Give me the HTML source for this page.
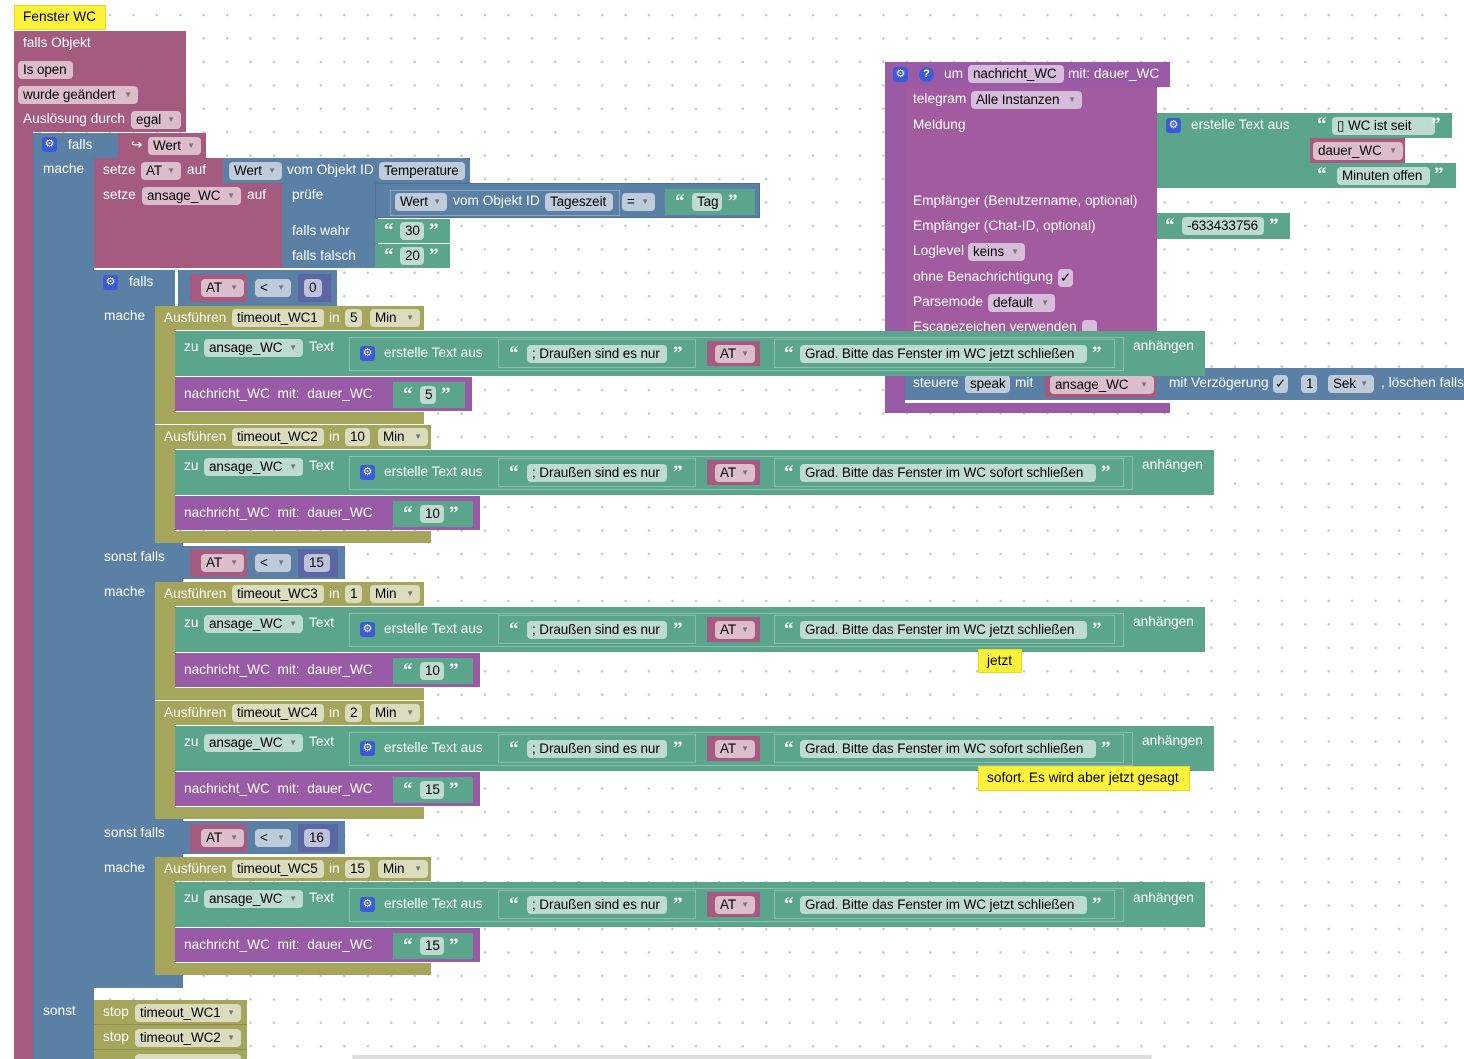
<!DOCTYPE html>
<html><head><meta charset="utf-8">
<style>
html,body{margin:0;padding:0;overflow:hidden}
html{width:1464px;height:1059px}
body{width:1464px;height:1059px;overflow:hidden;position:relative;background:#fff radial-gradient(circle,#c8c8c8 1px,transparent 1.6px) 4.5px 3.3px/23.45px 23.45px;font-family:"Liberation Sans",Arial,sans-serif}
.a{position:absolute}
.w{position:absolute;color:#fff;font-size:13.7px;line-height:18px;white-space:nowrap}
.f{position:absolute;height:18px;border-radius:4px;font-size:13.5px;letter-spacing:-0.1px;line-height:18px;color:#000;padding-left:5px;box-sizing:border-box;white-space:nowrap;overflow:hidden}
.d{font-size:8px;color:#777;position:absolute;right:6px;top:0}
.q{position:absolute;color:#fff;font-size:19px;line-height:20px;font-weight:bold;font-family:"Liberation Serif",serif}
.g{position:absolute;width:15px;height:15px;background:#3b5ad6;border-radius:3px;color:#fff;font-size:11px;line-height:15px;text-align:center}
.pk{background:#a55b80}.pkf{background:#dcbdcc}
.bl{background:#5b80a5}.blf{background:#bdcbdb}
.ol{background:#a5a55b}.olf{background:#dbdbbd}
.te{background:#5ba58c}.tef{background:#bddbd1}
.pu{background:#995ba5}.puf{background:#d6bddb}
.vi{background:#5b67a5}.vif{background:#bdc2db}
.ob{position:absolute;border:1px solid rgba(255,255,255,.3);box-sizing:border-box}
.ye{position:absolute;background:#fdf23a;border:1px solid #e8dc20;box-sizing:border-box;font-size:13.7px;line-height:22px;color:#000;padding-left:8px;white-space:nowrap}
</style></head><body>

<!-- Trigger block -->
<div class="ye" style="left:14px;top:5px;width:92px;height:25px">Fenster WC</div>
<div class="a pk" style="left:14px;top:31px;width:172px;height:101px"></div>
<div class="a pk" style="left:14px;top:131px;width:19px;height:928px"></div>
<div class="w" style="left:23px;top:34px">falls Objekt</div>
<div class="f pkf" style="left:18px;top:61px;width:55px">Is open</div>
<div class="f pkf" style="left:18px;top:86px;width:120px">wurde geändert<span class="d">▼</span></div>
<div class="w" style="left:23px;top:110px">Auslösung durch</div>
<div class="f pkf" style="left:131px;top:111px;width:50px">egal<span class="d">▼</span></div>

<!-- outer falls -->
<div class="a bl" style="left:33px;top:133px;width:85px;height:25px"></div>
<div class="a bl" style="left:33px;top:133px;width:61px;height:926px"></div>
<div class="g" style="left:42px;top:137px">⚙</div>
<div class="w" style="left:68px;top:136px">falls</div>
<div class="w" style="left:43px;top:160px">mache</div>
<div class="w" style="left:43px;top:1002px">sonst</div>
<div class="a pk" style="left:118px;top:133px;width:88px;height:25px"></div>
<div class="w" style="left:131px;top:136px">↪</div>
<div class="f pkf" style="left:148px;top:137px;width:53px">Wert<span class="d">▼</span></div>

<!-- setze AT -->
<div class="a pk" style="left:94px;top:158px;width:129px;height:25px"></div>
<div class="w" style="left:103px;top:161px">setze</div>
<div class="f pkf" style="left:141px;top:162px;width:40px">AT<span class="d">▼</span></div>
<div class="w" style="left:187px;top:161px">auf</div>
<div class="a bl" style="left:223px;top:158px;width:247px;height:25px"></div>
<div class="f blf" style="left:229px;top:162px;width:53px">Wert<span class="d">▼</span></div>
<div class="w" style="left:287px;top:161px">vom Objekt ID</div>
<div class="f blf" style="left:379px;top:162px;width:86px">Temperature</div>

<!-- setze ansage -->
<div class="a pk" style="left:94px;top:183px;width:188px;height:85px"></div>
<div class="w" style="left:103px;top:186px">setze</div>
<div class="f pkf" style="left:142px;top:187px;width:99px">ansage_WC<span class="d">▼</span></div>
<div class="w" style="left:247px;top:186px">auf</div>
<div class="a bl" style="left:282px;top:183px;width:96px;height:85px"></div>
<div class="w" style="left:292px;top:186px">prüfe</div>
<div class="w" style="left:292px;top:222px">falls wahr</div>
<div class="w" style="left:292px;top:247px">falls falsch</div>
<div class="a bl" style="left:375px;top:183px;width:385px;height:35px;border:1px solid #4d6f92;box-sizing:border-box"></div>
<div class="ob" style="left:390px;top:190px;width:230px;height:26px"></div>
<div class="f blf" style="left:395px;top:193px;width:52px">Wert<span class="d">▼</span></div>
<div class="w" style="left:453px;top:192px">vom Objekt ID</div>
<div class="f blf" style="left:545px;top:193px;width:68px">Tageszeit</div>
<div class="f blf" style="left:622px;top:193px;width:33px">=<span class="d">▼</span></div>
<div class="a te" style="left:665px;top:189px;width:90px;height:26px"></div>
<div class="q" style="left:675px;top:192px">“</div>
<div class="f tef" style="left:692px;top:193px;width:30px">Tag</div>
<div class="q" style="left:728px;top:192px">”</div>
<div class="a te" style="left:375px;top:219px;width:75px;height:24px"></div>
<div class="q" style="left:384px;top:221px">“</div>
<div class="f tef" style="left:400px;top:222px;width:24px">30</div>
<div class="q" style="left:429px;top:221px">”</div>
<div class="a te" style="left:375px;top:244px;width:75px;height:24px"></div>
<div class="q" style="left:384px;top:246px">“</div>
<div class="f tef" style="left:400px;top:247px;width:24px">20</div>
<div class="q" style="left:429px;top:246px">”</div>

<!-- inner falls -->
<div class="a bl" style="left:94px;top:270px;width:81px;height:36px"></div>
<div class="a bl" style="left:94px;top:270px;width:61px;height:718px"></div>
<div class="a bl" style="left:94px;top:975px;width:89px;height:13px"></div>
<div class="a bl" style="left:155px;top:543px;width:28px;height:39px"></div>
<div class="a bl" style="left:155px;top:819px;width:28px;height:38px"></div>

<!-- conditions -->
<div class="a bl" style="left:178px;top:270px;width:159px;height:36px"></div>
<div class="a pk" style="left:190px;top:274px;width:57px;height:28px"></div>
<div class="f pkf" style="left:201px;top:279px;width:43px">AT<span class="d">▼</span></div>
<div class="f blf" style="left:255px;top:279px;width:36px">&lt;<span class="d">▼</span></div>
<div class="a vi" style="left:298px;top:274px;width:33px;height:28px"></div>
<div class="f vif" style="left:304px;top:279px;width:18px">0</div>

<div class="a bl" style="left:178px;top:546px;width:167px;height:33px"></div>
<div class="a pk" style="left:190px;top:549px;width:57px;height:28px"></div>
<div class="f pkf" style="left:201px;top:554px;width:43px">AT<span class="d">▼</span></div>
<div class="f blf" style="left:255px;top:554px;width:36px">&lt;<span class="d">▼</span></div>
<div class="a vi" style="left:298px;top:549px;width:40px;height:28px"></div>
<div class="f vif" style="left:304px;top:554px;width:26px">15</div>

<div class="a bl" style="left:178px;top:821px;width:167px;height:33px"></div>
<div class="a pk" style="left:190px;top:824px;width:57px;height:28px"></div>
<div class="f pkf" style="left:201px;top:829px;width:43px">AT<span class="d">▼</span></div>
<div class="f blf" style="left:255px;top:829px;width:36px">&lt;<span class="d">▼</span></div>
<div class="a vi" style="left:298px;top:824px;width:40px;height:28px"></div>
<div class="f vif" style="left:304px;top:829px;width:26px">16</div>

<div class="g" style="left:103px;top:275px">⚙</div>
<div class="w" style="left:129px;top:273px">falls</div>
<div class="w" style="left:104px;top:307px">mache</div>
<div class="w" style="left:104px;top:548px">sonst falls</div>
<div class="w" style="left:104px;top:583px">mache</div>
<div class="w" style="left:104px;top:824px">sonst falls</div>
<div class="w" style="left:104px;top:859px">mache</div>

<!-- Function block -->
<div class="a pu" style="left:885px;top:62px;width:285px;height:25px"></div>
<div class="a pu" style="left:885px;top:62px;width:20px;height:351px"></div>
<div class="a pu" style="left:885px;top:403px;width:285px;height:10px"></div>
<div class="g" style="left:893px;top:67px">⚙</div>
<div class="a" style="left:919px;top:67px;width:15px;height:15px;border-radius:50%;background:#3b5ad6;color:#fff;font-size:11px;line-height:15px;text-align:center;font-weight:bold">?</div>
<div class="w" style="left:944px;top:65px">um</div>
<div class="f puf" style="left:968px;top:65px;width:96px">nachricht_WC</div>
<div class="w" style="left:1068px;top:65px">mit: dauer_WC</div>
<div class="a" style="left:905px;top:87px;width:252px;height:300px;background:#a35ba0"></div>
<div class="w" style="left:913px;top:90px">telegram</div>
<div class="f puf" style="left:971px;top:91px;width:111px">Alle Instanzen<span class="d">▼</span></div>
<div class="w" style="left:913px;top:116px">Meldung</div>
<div class="w" style="left:913px;top:192px">Empfänger (Benutzername, optional)</div>
<div class="w" style="left:913px;top:217px">Empfänger (Chat-ID, optional)</div>
<div class="w" style="left:913px;top:242px">Loglevel</div>
<div class="f puf" style="left:968px;top:243px;width:57px">keins<span class="d">▼</span></div>
<div class="w" style="left:913px;top:268px">ohne Benachrichtigung</div>
<div class="f puf" style="left:1058px;top:269px;width:15px;padding-left:2px">✓</div>
<div class="w" style="left:913px;top:293px">Parsemode</div>
<div class="f puf" style="left:988px;top:294px;width:67px">default<span class="d">▼</span></div>
<div class="w" style="left:913px;top:318px">Escapezeichen verwenden</div>
<div class="f puf" style="left:1082px;top:320px;width:15px"></div>
<div class="a te" style="left:1157px;top:113px;width:155px;height:75px"></div>
<div class="g" style="left:1166px;top:118px">⚙</div>
<div class="w" style="left:1191px;top:116px">erstelle Text aus</div>
<div class="a te" style="left:1310px;top:113px;width:142px;height:25px"></div>
<div class="q" style="left:1317px;top:115px">“</div>
<div class="f tef" style="left:1332px;top:117px;width:103px">▯ WC ist seit</div>
<div class="q" style="left:1431px;top:115px">”</div>
<div class="a pk" style="left:1310px;top:138px;width:95px;height:25px"></div>
<div class="f pkf" style="left:1313px;top:142px;width:90px">dauer_WC<span class="d">▼</span></div>
<div class="a te" style="left:1310px;top:163px;width:146px;height:25px"></div>
<div class="q" style="left:1317px;top:165px">“</div>
<div class="f tef" style="left:1337px;top:167px;width:93px">Minuten offen</div>
<div class="q" style="left:1434px;top:165px">”</div>
<div class="a te" style="left:1157px;top:213px;width:133px;height:26px"></div>
<div class="q" style="left:1165px;top:216px">“</div>
<div class="f tef" style="left:1182px;top:217px;width:82px">-633433756</div>
<div class="q" style="left:1269px;top:216px">”</div>
<div class="a bl" style="left:905px;top:368px;width:559px;height:32px"></div>
<div class="w" style="left:913px;top:374px">steuere</div>
<div class="f blf" style="left:965px;top:375px;width:45px">speak</div>
<div class="w" style="left:1015px;top:374px">mit</div>
<div class="a pk" style="left:1045px;top:370px;width:111px;height:28px"></div>
<div class="f pkf" style="left:1050px;top:376px;width:104px">ansage_WC<span class="d">▼</span></div>
<div class="w" style="left:1169px;top:374px">mit Verzögerung</div>
<div class="f blf" style="left:1273px;top:375px;width:15px;padding-left:2px">✓</div>
<div class="f blf" style="left:1301px;top:375px;width:16px">1</div>
<div class="f blf" style="left:1328px;top:375px;width:46px">Sek<span class="d">▼</span></div>
<div class="w" style="left:1381px;top:374px">, löschen falls</div>

<!-- GROUP 1 Y=306 -->
<div class="a ol" style="left:155px;top:306px;width:269px;height:24px"></div>
<div class="a ol" style="left:155px;top:306px;width:20px;height:118px"></div>
<div class="a ol" style="left:155px;top:412px;width:269px;height:12px"></div>
<div class="w" style="left:164px;top:309px">Ausführen</div>
<div class="f olf" style="left:232px;top:309px;width:92px">timeout_WC1</div>
<div class="w" style="left:329px;top:309px">in</div>
<div class="f olf" style="left:345px;top:309px;width:17px">5</div>
<div class="f olf" style="left:370px;top:309px;width:50px">Min<span class="d">▼</span></div>
<div class="a te" style="left:175px;top:331px;width:1030px;height:45px"></div>
<div class="w" style="left:184px;top:338px">zu</div>
<div class="f tef" style="left:204px;top:339px;width:99px">ansage_WC<span class="d">▼</span></div>
<div class="w" style="left:309px;top:338px">Text</div>
<div class="ob" style="left:349px;top:337px;width:775px;height:34px"></div>
<div class="g" style="left:360px;top:346px">⚙</div>
<div class="w" style="left:384px;top:344px">erstelle Text aus</div>
<div class="ob" style="left:498px;top:339px;width:198px;height:29px"></div>
<div class="q" style="left:509px;top:344px">“</div>
<div class="f tef" style="left:527px;top:345px;width:140px">; Draußen sind es nur</div>
<div class="q" style="left:673px;top:344px">”</div>
<div class="a pk" style="left:707px;top:341px;width:53px;height:25px"></div>
<div class="f pkf" style="left:715px;top:345px;width:40px">AT<span class="d">▼</span></div>
<div class="ob" style="left:774px;top:339px;width:341px;height:29px"></div>
<div class="q" style="left:784px;top:344px">“</div>
<div class="f tef" style="left:800px;top:345px;width:287px">Grad. Bitte das Fenster im WC jetzt schließen</div>
<div class="q" style="left:1092px;top:344px">”</div>
<div class="w" style="left:1133px;top:337px">anhängen</div>
<div class="a pu" style="left:175px;top:377px;width:297px;height:34px"></div>
<div class="w" style="left:184px;top:385px">nachricht_WC&nbsp; mit:&nbsp; dauer_WC</div>
<div class="a te" style="left:393px;top:382px;width:72px;height:26px"></div>
<div class="q" style="left:403px;top:385px">“</div>
<div class="f tef" style="left:420px;top:386px;width:16px">5</div>
<div class="q" style="left:441px;top:385px">”</div>

<!-- GROUP 2 Y=425 -->
<div class="a ol" style="left:155px;top:425px;width:276px;height:24px"></div>
<div class="a ol" style="left:155px;top:425px;width:20px;height:118px"></div>
<div class="a ol" style="left:155px;top:531px;width:276px;height:12px"></div>
<div class="w" style="left:164px;top:428px">Ausführen</div>
<div class="f olf" style="left:232px;top:428px;width:92px">timeout_WC2</div>
<div class="w" style="left:329px;top:428px">in</div>
<div class="f olf" style="left:345px;top:428px;width:25px">10</div>
<div class="f olf" style="left:378px;top:428px;width:50px">Min<span class="d">▼</span></div>
<div class="a te" style="left:175px;top:450px;width:1039px;height:45px"></div>
<div class="w" style="left:184px;top:457px">zu</div>
<div class="f tef" style="left:204px;top:458px;width:99px">ansage_WC<span class="d">▼</span></div>
<div class="w" style="left:309px;top:457px">Text</div>
<div class="ob" style="left:349px;top:456px;width:784px;height:34px"></div>
<div class="g" style="left:360px;top:465px">⚙</div>
<div class="w" style="left:384px;top:463px">erstelle Text aus</div>
<div class="ob" style="left:498px;top:458px;width:198px;height:29px"></div>
<div class="q" style="left:509px;top:463px">“</div>
<div class="f tef" style="left:527px;top:464px;width:140px">; Draußen sind es nur</div>
<div class="q" style="left:673px;top:463px">”</div>
<div class="a pk" style="left:707px;top:460px;width:53px;height:25px"></div>
<div class="f pkf" style="left:715px;top:464px;width:40px">AT<span class="d">▼</span></div>
<div class="ob" style="left:774px;top:458px;width:350px;height:29px"></div>
<div class="q" style="left:784px;top:463px">“</div>
<div class="f tef" style="left:800px;top:464px;width:296px">Grad. Bitte das Fenster im WC sofort schließen</div>
<div class="q" style="left:1101px;top:463px">”</div>
<div class="w" style="left:1142px;top:456px">anhängen</div>
<div class="a pu" style="left:175px;top:496px;width:305px;height:34px"></div>
<div class="w" style="left:184px;top:504px">nachricht_WC&nbsp; mit:&nbsp; dauer_WC</div>
<div class="a te" style="left:393px;top:501px;width:80px;height:26px"></div>
<div class="q" style="left:403px;top:504px">“</div>
<div class="f tef" style="left:420px;top:505px;width:24px">10</div>
<div class="q" style="left:449px;top:504px">”</div>

<!-- GROUP 3 Y=582 -->
<div class="a ol" style="left:155px;top:582px;width:269px;height:24px"></div>
<div class="a ol" style="left:155px;top:582px;width:20px;height:118px"></div>
<div class="a ol" style="left:155px;top:688px;width:269px;height:12px"></div>
<div class="w" style="left:164px;top:585px">Ausführen</div>
<div class="f olf" style="left:232px;top:585px;width:92px">timeout_WC3</div>
<div class="w" style="left:329px;top:585px">in</div>
<div class="f olf" style="left:345px;top:585px;width:17px">1</div>
<div class="f olf" style="left:370px;top:585px;width:50px">Min<span class="d">▼</span></div>
<div class="a te" style="left:175px;top:607px;width:1030px;height:45px"></div>
<div class="w" style="left:184px;top:614px">zu</div>
<div class="f tef" style="left:204px;top:615px;width:99px">ansage_WC<span class="d">▼</span></div>
<div class="w" style="left:309px;top:614px">Text</div>
<div class="ob" style="left:349px;top:613px;width:775px;height:34px"></div>
<div class="g" style="left:360px;top:622px">⚙</div>
<div class="w" style="left:384px;top:620px">erstelle Text aus</div>
<div class="ob" style="left:498px;top:615px;width:198px;height:29px"></div>
<div class="q" style="left:509px;top:620px">“</div>
<div class="f tef" style="left:527px;top:621px;width:140px">; Draußen sind es nur</div>
<div class="q" style="left:673px;top:620px">”</div>
<div class="a pk" style="left:707px;top:617px;width:53px;height:25px"></div>
<div class="f pkf" style="left:715px;top:621px;width:40px">AT<span class="d">▼</span></div>
<div class="ob" style="left:774px;top:615px;width:341px;height:29px"></div>
<div class="q" style="left:784px;top:620px">“</div>
<div class="f tef" style="left:800px;top:621px;width:287px">Grad. Bitte das Fenster im WC jetzt schließen</div>
<div class="q" style="left:1092px;top:620px">”</div>
<div class="w" style="left:1133px;top:613px">anhängen</div>
<div class="a pu" style="left:175px;top:653px;width:305px;height:34px"></div>
<div class="w" style="left:184px;top:661px">nachricht_WC&nbsp; mit:&nbsp; dauer_WC</div>
<div class="a te" style="left:393px;top:658px;width:80px;height:26px"></div>
<div class="q" style="left:403px;top:661px">“</div>
<div class="f tef" style="left:420px;top:662px;width:24px">10</div>
<div class="q" style="left:449px;top:661px">”</div>

<!-- GROUP 4 Y=701 -->
<div class="a ol" style="left:155px;top:701px;width:269px;height:24px"></div>
<div class="a ol" style="left:155px;top:701px;width:20px;height:118px"></div>
<div class="a ol" style="left:155px;top:807px;width:269px;height:12px"></div>
<div class="w" style="left:164px;top:704px">Ausführen</div>
<div class="f olf" style="left:232px;top:704px;width:92px">timeout_WC4</div>
<div class="w" style="left:329px;top:704px">in</div>
<div class="f olf" style="left:345px;top:704px;width:17px">2</div>
<div class="f olf" style="left:370px;top:704px;width:50px">Min<span class="d">▼</span></div>
<div class="a te" style="left:175px;top:726px;width:1039px;height:45px"></div>
<div class="w" style="left:184px;top:733px">zu</div>
<div class="f tef" style="left:204px;top:734px;width:99px">ansage_WC<span class="d">▼</span></div>
<div class="w" style="left:309px;top:733px">Text</div>
<div class="ob" style="left:349px;top:732px;width:784px;height:34px"></div>
<div class="g" style="left:360px;top:741px">⚙</div>
<div class="w" style="left:384px;top:739px">erstelle Text aus</div>
<div class="ob" style="left:498px;top:734px;width:198px;height:29px"></div>
<div class="q" style="left:509px;top:739px">“</div>
<div class="f tef" style="left:527px;top:740px;width:140px">; Draußen sind es nur</div>
<div class="q" style="left:673px;top:739px">”</div>
<div class="a pk" style="left:707px;top:736px;width:53px;height:25px"></div>
<div class="f pkf" style="left:715px;top:740px;width:40px">AT<span class="d">▼</span></div>
<div class="ob" style="left:774px;top:734px;width:350px;height:29px"></div>
<div class="q" style="left:784px;top:739px">“</div>
<div class="f tef" style="left:800px;top:740px;width:296px">Grad. Bitte das Fenster im WC sofort schließen</div>
<div class="q" style="left:1101px;top:739px">”</div>
<div class="w" style="left:1142px;top:732px">anhängen</div>
<div class="a pu" style="left:175px;top:772px;width:305px;height:34px"></div>
<div class="w" style="left:184px;top:780px">nachricht_WC&nbsp; mit:&nbsp; dauer_WC</div>
<div class="a te" style="left:393px;top:777px;width:80px;height:26px"></div>
<div class="q" style="left:403px;top:780px">“</div>
<div class="f tef" style="left:420px;top:781px;width:24px">15</div>
<div class="q" style="left:449px;top:780px">”</div>

<!-- GROUP 5 Y=857 -->
<div class="a ol" style="left:155px;top:857px;width:276px;height:24px"></div>
<div class="a ol" style="left:155px;top:857px;width:20px;height:118px"></div>
<div class="a ol" style="left:155px;top:963px;width:276px;height:12px"></div>
<div class="w" style="left:164px;top:860px">Ausführen</div>
<div class="f olf" style="left:232px;top:860px;width:92px">timeout_WC5</div>
<div class="w" style="left:329px;top:860px">in</div>
<div class="f olf" style="left:345px;top:860px;width:25px">15</div>
<div class="f olf" style="left:378px;top:860px;width:50px">Min<span class="d">▼</span></div>
<div class="a te" style="left:175px;top:882px;width:1030px;height:45px"></div>
<div class="w" style="left:184px;top:889px">zu</div>
<div class="f tef" style="left:204px;top:890px;width:99px">ansage_WC<span class="d">▼</span></div>
<div class="w" style="left:309px;top:889px">Text</div>
<div class="ob" style="left:349px;top:888px;width:775px;height:34px"></div>
<div class="g" style="left:360px;top:897px">⚙</div>
<div class="w" style="left:384px;top:895px">erstelle Text aus</div>
<div class="ob" style="left:498px;top:890px;width:198px;height:29px"></div>
<div class="q" style="left:509px;top:895px">“</div>
<div class="f tef" style="left:527px;top:896px;width:140px">; Draußen sind es nur</div>
<div class="q" style="left:673px;top:895px">”</div>
<div class="a pk" style="left:707px;top:892px;width:53px;height:25px"></div>
<div class="f pkf" style="left:715px;top:896px;width:40px">AT<span class="d">▼</span></div>
<div class="ob" style="left:774px;top:890px;width:341px;height:29px"></div>
<div class="q" style="left:784px;top:895px">“</div>
<div class="f tef" style="left:800px;top:896px;width:287px">Grad. Bitte das Fenster im WC jetzt schließen</div>
<div class="q" style="left:1092px;top:895px">”</div>
<div class="w" style="left:1133px;top:889px">anhängen</div>
<div class="a pu" style="left:175px;top:928px;width:305px;height:34px"></div>
<div class="w" style="left:184px;top:936px">nachricht_WC&nbsp; mit:&nbsp; dauer_WC</div>
<div class="a te" style="left:393px;top:933px;width:80px;height:26px"></div>
<div class="q" style="left:403px;top:936px">“</div>
<div class="f tef" style="left:420px;top:937px;width:24px">15</div>
<div class="q" style="left:449px;top:936px">”</div>

<!-- stop blocks -->
<div class="a ol" style="left:94px;top:1000px;width:153px;height:24px;border-bottom:1px solid #8f8f4c"></div>
<div class="w" style="left:103px;top:1003px">stop</div>
<div class="f olf" style="left:135px;top:1004px;width:106px">timeout_WC1<span class="d">▼</span></div>
<div class="a ol" style="left:94px;top:1025px;width:153px;height:24px;border-bottom:1px solid #8f8f4c"></div>
<div class="w" style="left:103px;top:1028px">stop</div>
<div class="f olf" style="left:135px;top:1029px;width:106px">timeout_WC2<span class="d">▼</span></div>
<div class="a ol" style="left:94px;top:1050px;width:153px;height:9px;overflow:hidden"><div class="f olf" style="left:41px;top:4px;width:106px"></div></div>

<div class="a" style="left:352px;top:1055px;width:800px;height:4px;background:#ddd;border-radius:2px"></div>

<!-- comments -->
<div class="ye" style="left:978px;top:649px;width:44px;height:24px">jetzt</div>
<div class="ye" style="left:978px;top:766px;width:212px;height:25px">sofort. Es wird aber jetzt gesagt</div>

</body></html>
